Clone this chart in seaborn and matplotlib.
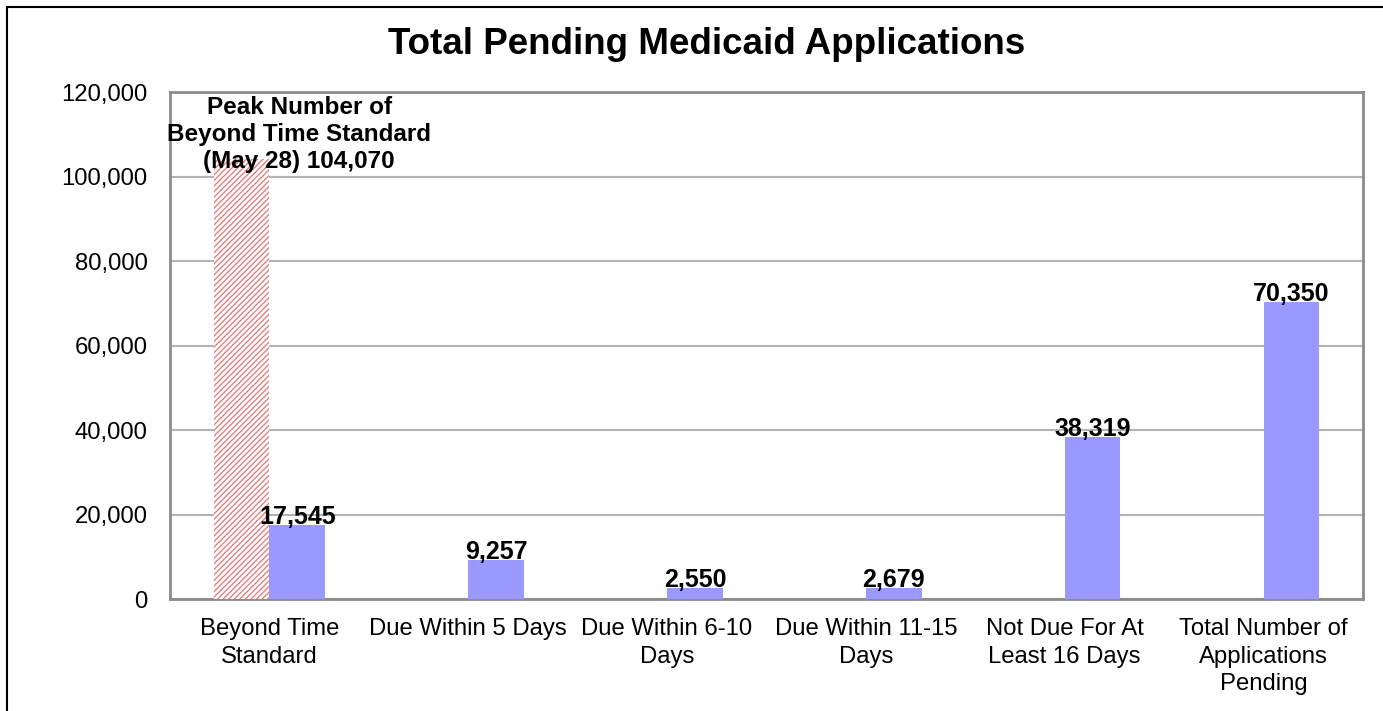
import matplotlib
matplotlib.use("Agg")
import matplotlib.pyplot as plt
import seaborn as sns
import pandas as pd
from matplotlib.lines import Line2D
from matplotlib.ticker import FuncFormatter

# data
categories = ["Beyond Time\nStandard", "Due Within 5 Days", "Due Within 6-10\nDays",
              "Due Within 11-15\nDays", "Not Due For At\nLeast 16 Days",
              "Total Number of\nApplications\nPending"]
pending = [17545, 9257, 2550, 2679, 38319, 70350]
peak_category = ["Beyond Time\nStandard"]
peak_value = [104070]
peak_label = "Peak Number of\nBeyond Time Standard\n(May 28) 104,070"
y_ticks = [0, 20000, 40000, 60000, 80000, 100000, 120000]

df = pd.concat([
    pd.DataFrame({"category": peak_category, "count": peak_value, "series": "Peak"}),
    pd.DataFrame({"category": categories, "count": pending, "series": "Current"}),
])

sns.set_style("white")
plt.rcParams["font.family"] = ["Liberation Sans", "DejaVu Sans"]
plt.rcParams["text.color"] = "black"
plt.rcParams["xtick.color"] = "black"
plt.rcParams["ytick.color"] = "black"
plt.rcParams["hatch.linewidth"] = 1.0

fig = plt.figure(figsize=(13.83, 7.11), dpi=100)
ax = fig.add_axes([0.1229, 0.1575, 0.8626, 0.7131])

sns.barplot(data=df, x="category", y="count", hue="series", hue_order=["Peak", "Current"],
            order=categories, palette={"Peak": "white", "Current": "#9999FF"},
            saturation=1, width=0.56, gap=0, dodge=True, legend=False, ax=ax, zorder=3)

peak_bars, cur_bars = ax.containers[0], ax.containers[1]
for p in peak_bars:
    p.set_facecolor("white")
    p.set_edgecolor("#E08080")
    p.set_hatch("//////")
    p.set_linewidth(0)
for p in cur_bars:
    p.set_linewidth(0)

ax.bar_label(cur_bars, labels=[f"{v:,}" for v in pending], padding=-3,
             fontsize=18, fontweight="bold", color="black", zorder=5)

# peak annotation above the hatched bar
ax.text(0.15, peak_value[0] - 3300, peak_label, ha="center", va="bottom",
        fontsize=17.5, fontweight="bold", linespacing=1.22, zorder=5)

ax.set_ylim(0, 120000)
ax.set_xlim(-0.5, len(categories) - 0.5)
ax.set_yticks(y_ticks)
ax.yaxis.set_major_formatter(FuncFormatter(lambda v, _: f"{int(v):,}"))
ax.tick_params(axis="y", labelsize=17.2, length=0, pad=16)
ax.tick_params(axis="x", labelsize=17.2, length=0, pad=14)
ax.set_xticks(range(len(categories)))
ax.set_xticklabels(categories, linespacing=1.3)
ax.set_xlabel("")
ax.set_ylabel("")
ax.grid(axis="y", color="#B3B3B3", linewidth=1.5, zorder=0)
ax.set_axisbelow(True)
for s in ax.spines.values():
    s.set_color("#8C8C8C")
    s.set_linewidth(2)

fig.text(0.511, 0.937, "Total Pending Medicaid Applications", ha="center", va="center",
         fontsize=26.5, fontweight="bold")

# outer frame (left and top)
fig.add_artist(Line2D([0.0051, 0.0051], [0, 0.990], color="black", linewidth=1.5))
fig.add_artist(Line2D([0.0051, 1.0], [0.990, 0.990], color="black", linewidth=1.5))

fig.savefig("out.png", dpi=100)
